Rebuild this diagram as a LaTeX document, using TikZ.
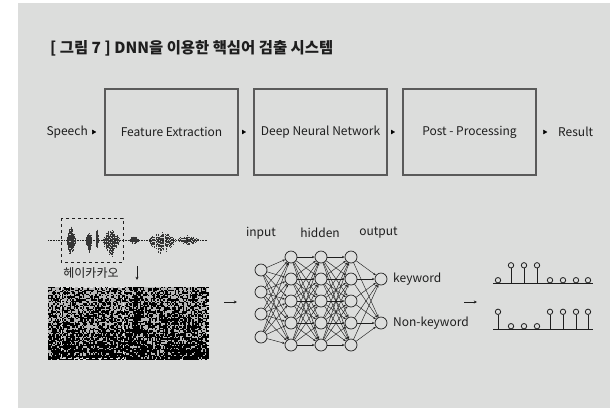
\documentclass[tikz,border=0pt]{standalone}
\usepackage{fontspec}
\setmainfont{Noto Sans CJK KR}
\usetikzlibrary{arrows.meta,decorations.markings}
\definecolor{panel}{HTML}{DCDDDC}
\definecolor{ink}{HTML}{1E1E1E}
\definecolor{frame}{HTML}{5A5A5A}

\begin{document}
\begin{tikzpicture}[x=1pt,y=-1pt,
  every node/.style={font=\fontsize{12}{14}\selectfont, text=ink, inner sep=0pt},
  stagebox/.style={draw=frame, line width=1.1pt, minimum width=133pt, minimum height=86pt},
  flowmark/.style={decoration={markings, mark=at position 0.5 with {\arrow{Triangle[length=4pt,width=4.5pt]}}}, postaction={decorate}},
  neuron/.style={circle, draw=ink, line width=0.7pt, fill=panel, minimum size=12pt},
  conn/.style={draw=ink, line width=0.45pt, -{Stealth[length=2.6pt,width=2.2pt]}},
  thinarrow/.style={draw=ink, line width=0.7pt, -{Stealth[length=3.2pt,width=3pt]}},
  stemline/.style={draw=ink, line width=0.9pt},
  stemdot/.style={draw=ink, line width=0.8pt, fill=panel},
]
\useasboundingbox (0,0) rectangle (610,408);
\fill[panel] (18,3) rectangle (610,408);

% title
\node[anchor=base west, font=\bfseries\fontsize{15.4}{17}\selectfont] (title) at (50,53.5)
  {[ 그림 7 ] DNN을 이용한 핵심어 검출 시스템};

% processing chain
\node[anchor=east] (speech) at (88,132) {Speech};
\node[stagebox] (fe)  at (171.5,132) {Feature Extraction};
\node[stagebox] (dnn) at (320.5,132) {Deep Neural Network};
\node[stagebox] (pp)  at (469.5,132) {Post - Processing};
\node[anchor=west] (result) at (558,132) {Result};
\path[flowmark] (speech.east) -- (fe.west);
\path[flowmark] (fe.east) -- (dnn.west);
\path[flowmark] (dnn.east) -- (pp.west);
\path[flowmark] (pp.east) -- (result.west);

% speech waveform
\pgfmathsetseed{11}
\draw[ink, line width=0.6pt, dash pattern=on 0.8pt off 0.8pt] (48,240) -- (207,240);
\foreach \c/\w/\up/\dn in {71/4.5/14/17, 89/3/8/13, 97/1.2/11/7, 111/8.5/11/17, 134/5/4/4, 162/14/8/15, 188/11/5/5}{
  \foreach \k in {-1,-0.92,...,1}{
    \pgfmathsetmacro{\xx}{\c+\k*\w}
    \pgfmathsetmacro{\env}{max(0,1-\k*\k)}
    \pgfmathsetmacro{\au}{\up*\env*(0.4+0.6*rnd)}
    \pgfmathsetmacro{\ad}{\dn*\env*(0.4+0.6*rnd)}
    \draw[ink!90, line width=0.55pt, dash pattern=on 1pt off 0.4pt] (\xx,240-\au) -- (\xx,240+\ad);
  }
}
\draw[ink, line width=0.8pt, dashed] (61,218) rectangle (123,262);
\node (word) at (91,273) {헤이카카오};

% spectrogram: dithered energy map
\fill[white!72!black] (48,287) rectangle (207,359);
\pgfmathsetseed{5}
\foreach \i in {0,...,118}{
  \foreach \j in {0,...,53}{
    \pgfmathsetmacro{\px}{48+1.35*\i}
    \pgfmathsetmacro{\py}{287+1.35*\j}
    \pgfmathsetmacro{\d}{0.50 + 0.38*(\j/53)^3
       + 0.45*max(0,1-abs(\px-137)/6)*(\py<334)
       + 0.30*max(0,1-abs(\px-70)/9)*max(0,1-abs(\py-338)/16)
       + 0.25*max(0,1-abs(\px-97)/7)*max(0,1-abs(\py-308)/12)
       + 0.20*max(0,1-abs(\px-175)/20)*max(0,1-abs(\py-320)/12)
       - 0.15*max(0,1-abs(\px-115)/14)*max(0,1-abs(\py-295)/10)}
    \pgfmathsetmacro{\r}{rnd}
    \ifdim\r pt<\d pt
      \fill[black] (\px,\py) rectangle ++(1.35,1.35);
    \fi
  }
}
\draw[white!90!black, line width=0.8pt, dashed] (61,287.5) rectangle (123,358.5);

\coordinate (wavedown) at (137,266);
\coordinate (specup) at (137,280);
\draw[thinarrow] (wavedown) -- (specup);
\coordinate (specout) at (224,302);
\coordinate (netin) at (237,302);
\draw[thinarrow] (specout) -- (netin);

% network
\node (lin)  at (261,233) {input};
\node (lhid) at (320,233) {hidden};
\node (lout) at (378.5,233) {output};
\foreach \n/\y in {1/270,2/292,3/314,4/337}{ \node[neuron] (i\n) at (261,\y) {}; }
\foreach \L/\x in {a/291,b/321,c/351}{
  \foreach \n/\y in {1/257,2/279,3/301,4/323,5/345}{ \node[neuron] (h\L\n) at (\x,\y) {}; }
}
\node[neuron] (o1) at (381,279) {};
\node[neuron] (o2) at (381,323) {};
\foreach \a in {1,...,4}{ \foreach \b in {1,...,5}{ \draw[conn] (i\a) -- (ha\b); } }
\foreach \a in {1,...,5}{ \foreach \b in {1,...,5}{ \draw[conn] (ha\a) -- (hb\b); \draw[conn] (hb\a) -- (hc\b); } }
\foreach \a in {1,...,5}{ \foreach \b in {1,2}{ \draw[conn] (hc\a) -- (o\b); } }
\node[anchor=west] (kw)  at (393,279) {keyword};
\node[anchor=west] (nkw) at (393,323) {Non-keyword};

\coordinate (decin) at (464,302);
\coordinate (decout) at (477,302);
\draw[thinarrow] (decin) -- (decout);

% detection scores
\draw[stemline] (493,283) -- (593,283);
\draw[stemline] (493,329) -- (593,329);
\foreach \x/\h in {498/0,511/1,524/1,537/1,550/0,563/0,576/0,588/0}{
  \ifnum\h=1
    \draw[stemline] (\x,283) -- (\x,268);
    \draw[stemdot] (\x,265.3) circle (2.7pt);
  \else
    \draw[stemdot] (\x,280.2) circle (2.7pt);
  \fi
}
\foreach \x/\h in {498/1,511/0,524/0,537/0,550/1,563/1,576/1,588/1}{
  \ifnum\h=1
    \draw[stemline] (\x,329) -- (\x,314.5);
    \draw[stemdot] (\x,311.8) circle (2.7pt);
  \else
    \draw[stemdot] (\x,326.2) circle (2.7pt);
  \fi
}
\end{tikzpicture}
\end{document}
